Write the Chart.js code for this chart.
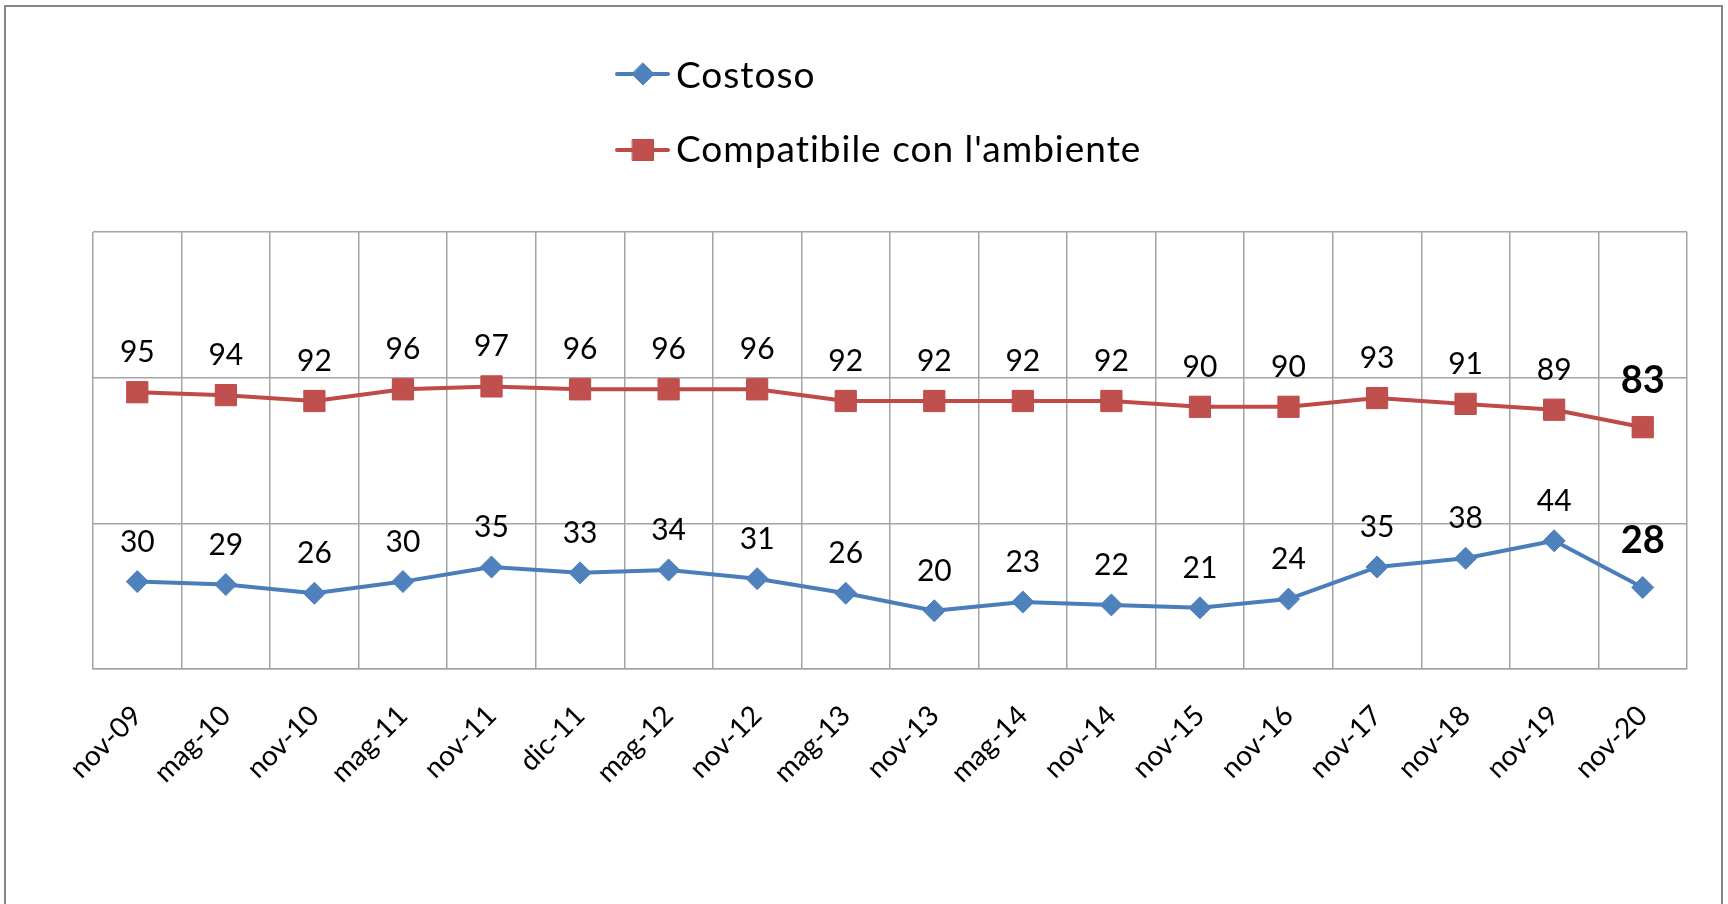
<!DOCTYPE html>
<html>
<head>
<meta charset="utf-8">
<script src="https://cdn.jsdelivr.net/npm/chart.js@4/dist/chart.umd.min.js"></script>
<style>
html,body{margin:0;padding:0;background:#fff;overflow:hidden}
#wrap{position:relative;width:1728px;height:904px;background:#fff;overflow:hidden}
#frame{position:absolute;left:4px;top:5px;width:1719px;height:1000px;border:2px solid #868686;box-sizing:border-box}
#c{position:absolute;left:0;top:0}
</style>
</head>
<body>
<div id="wrap"><div id="frame"></div><canvas id="c" width="1728" height="904"></canvas></div>
<script>
const categories = ['nov-09','mag-10','nov-10','mag-11','nov-11','dic-11','mag-12','nov-12','mag-13','nov-13','mag-14','nov-14','nov-15','nov-16','nov-17','nov-18','nov-19','nov-20'];
const costoso = [30,29,26,30,35,33,34,31,26,20,23,22,21,24,35,38,44,28];
const compatibile = [95,94,92,96,97,96,96,96,92,92,92,92,90,90,93,91,89,83];
const seriesNames = ['Costoso', "Compatibile con l'ambiente"];
const yTicks = {min:0, max:150, step:50};

const BLUE_LINE = '#4A7EBB', BLUE_FILL = '#4F81BD';
const RED_LINE = '#BE4B48', RED_FILL = '#C0504D';
const GRID = '#a3a3a3';

function diamond(ctx, x, y, r){
  ctx.beginPath(); ctx.moveTo(x, y-r); ctx.lineTo(x+r, y); ctx.lineTo(x, y+r); ctx.lineTo(x-r, y); ctx.closePath();
}

const valueLabels = {
  id:'valueLabels',
  afterDatasetsDraw(chart){
    const ctx = chart.ctx;
    chart.data.datasets.forEach((ds, di) => {
      const meta = chart.getDatasetMeta(di);
      meta.data.forEach((pt, i) => {
        const last = i === ds.data.length - 1;
        ctx.save();
        ctx.font = last ? 'bold 38px Lato' : '30px Lato';
        ctx.fillStyle = '#000';
        ctx.textAlign = 'center';
        ctx.textBaseline = 'alphabetic';
        ctx.fillText(String(ds.data[i]), pt.x, pt.y - (last ? 34 : 30));
        ctx.restore();
      });
    });
  }
};

const customLegend = {
  id:'customLegend',
  afterDraw(chart){
    const ctx = chart.ctx;
    const rows = [
      {y:74, base:88, text:chart.data.datasets[0].label, line:BLUE_LINE, fill:BLUE_FILL, shape:'diamond'},
      {y:150, base:162, text:chart.data.datasets[1].label, line:RED_LINE, fill:RED_FILL, shape:'rect'}
    ];
    rows.forEach(r => {
      ctx.save();
      ctx.strokeStyle = r.line; ctx.lineWidth = 4; ctx.lineCap = 'round';
      ctx.beginPath(); ctx.moveTo(617, r.y); ctx.lineTo(668, r.y); ctx.stroke();
      ctx.fillStyle = r.fill; ctx.strokeStyle = r.line; ctx.lineWidth = 1;
      if (r.shape === 'diamond') { diamond(ctx, 643, r.y, 11); }
      else { ctx.beginPath(); ctx.rect(643-10.5, r.y-10.5, 21, 21); }
      ctx.fill(); ctx.stroke();
      ctx.fillStyle = '#000'; ctx.font = '37px Lato'; ctx.textAlign = 'left'; ctx.textBaseline = 'alphabetic';
      ctx.letterSpacing = '1px';
      ctx.fillText(r.text, 676, r.base);
      ctx.restore();
    });
  }
};

new Chart(document.getElementById('c'), {
  type:'line',
  data:{
    labels:categories,
    datasets:[
      {label:seriesNames[0], data:costoso, borderColor:BLUE_LINE, backgroundColor:BLUE_FILL, borderWidth:4,
       pointStyle:'rectRot', pointRadius:11, pointBorderWidth:1, pointBorderColor:BLUE_LINE, pointBackgroundColor:BLUE_FILL, tension:0, borderJoinStyle:'round'},
      {label:seriesNames[1], data:compatibile, borderColor:RED_LINE, backgroundColor:RED_FILL, borderWidth:4,
       pointStyle:'rect', pointRadius:15, pointBorderWidth:1, pointBorderColor:RED_LINE, pointBackgroundColor:RED_FILL, tension:0, borderJoinStyle:'round'}
    ]
  },
  options:{
    responsive:false, animation:false, devicePixelRatio:1,
    layout:{padding:{left:93, right:41, top:232, bottom:0}},
    plugins:{legend:{display:false}, tooltip:{enabled:false}},
    scales:{
      x:{
        offset:true,
        grid:{offset:true, color:GRID, lineWidth:1.5, drawTicks:false},
        border:{color:GRID, width:1.5},
        ticks:{minRotation:45, maxRotation:45, autoSkip:false, padding:30, color:'#000', font:{family:'Lato', size:28}},
        afterFit(s){ s.height = 235; }
      },
      y:{
        min:yTicks.min, max:yTicks.max,
        ticks:{stepSize:yTicks.step, display:false},
        grid:{color:GRID, lineWidth:1.5, drawTicks:false},
        border:{display:false},
        afterFit(s){ s.width = 0; }
      }
    }
  },
  plugins:[valueLabels, customLegend]
});
</script>
</body>
</html>
